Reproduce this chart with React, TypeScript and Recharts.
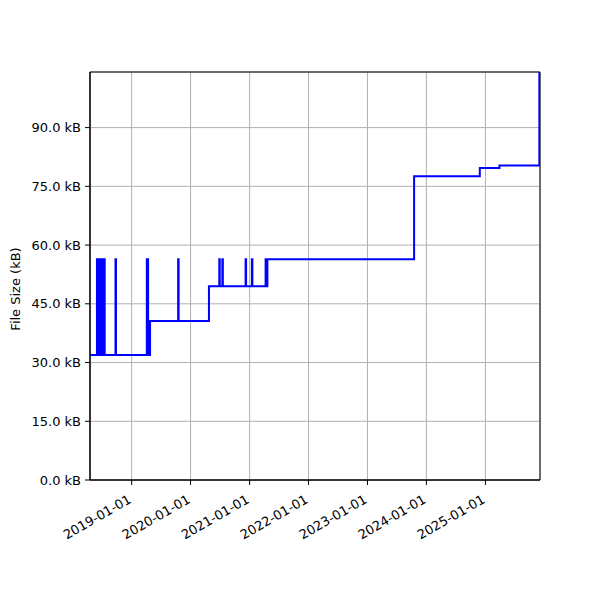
import React from 'react';
import { LineChart, Line, XAxis, YAxis, CartesianGrid, ReferenceArea } from 'recharts';

// commit dates and the file size at each commit (kB)
const dates = [
  '2018-04-18', '2018-05-31', '2018-06-02', '2018-06-04', '2018-06-06', '2018-06-08',
  '2018-06-11', '2018-06-15', '2018-06-18', '2018-06-20', '2018-06-23', '2018-06-26',
  '2018-06-30', '2018-07-05', '2018-07-08', '2018-07-11', '2018-07-14', '2018-07-16',
  '2018-07-18', '2018-09-23', '2018-09-26', '2019-04-05', '2019-04-13', '2019-04-25',
  '2019-10-16', '2019-10-19', '2020-04-24', '2020-06-27', '2020-06-30', '2020-07-16',
  '2020-07-19', '2020-12-07', '2020-12-10', '2021-01-15', '2021-01-18', '2021-04-10',
  '2021-04-14', '2021-04-21', '2023-10-17', '2024-11-27', '2025-03-29', '2025-12-01',
];
const sizes = [
  31.9, 56.4, 31.9, 56.4, 31.9, 56.4,
  31.9, 56.4, 31.9, 56.4, 31.9, 56.4,
  31.9, 56.4, 31.9, 56.4, 31.9, 56.4,
  31.9, 56.4, 31.9, 56.4, 31.9, 40.6,
  56.4, 40.6, 49.5, 56.4, 49.5, 56.4,
  49.5, 56.4, 49.5, 56.4, 49.5, 56.4,
  49.5, 56.4, 77.6, 79.7, 80.3, 104.2,
];
const yearTicks = [
  '2019-01-01', '2020-01-01', '2021-01-01', '2022-01-01',
  '2023-01-01', '2024-01-01', '2025-01-01',
];
const sizeTicks = [0, 15, 30, 45, 60, 75, 90];
const xStart = '2018-04-18';
const xEnd = '2025-12-05';
const yMax = 104.2;

const FONT = '"DejaVu Sans", sans-serif';
const FS = 13;

const rows = dates.map((d, i) => ({ t: Date.parse(d), kb: sizes[i] }));
const t0 = Date.parse(xStart);
const t1 = Date.parse(xEnd);

const DateTick = ({ x, y, payload }: any) => {
  const label = new Date(payload.value).toISOString().slice(0, 10);
  // y here is axis + tickSize + tickMargin; anchor the baseline end just below
  return (
    <text
      transform={`translate(${x + 0.5},${y + 14}) rotate(-30)`}
      textAnchor="end"
      fontSize={FS}
      fontFamily={FONT}
      fill="#000"
    >
      {label}
    </text>
  );
};

const YLabel = () => (
  <text
    transform="translate(20,289) rotate(-90)"
    textAnchor="middle"
    fontSize={FS}
    fontFamily={FONT}
    fill="#000"
  >
    File Size (kB)
  </text>
);

export default function App() {
  return (
    <div style={{ position: 'absolute', left: 0, top: 0, width: 600, height: 600, background: '#fff', fontFamily: FONT }}>
      <LineChart width={600} height={600} data={rows} margin={{ top: 72, right: 60, bottom: 0, left: 0 }}>
        <CartesianGrid stroke="#b0b0b0" strokeWidth={1} />
        <XAxis
          dataKey="t"
          type="number"
          domain={[t0, t1]}
          ticks={yearTicks.map((d) => Date.parse(d))}
          interval={0}
          allowDataOverflow
          height={120}
          tickSize={5}
          tickMargin={3}
          tickLine={{ stroke: '#000' }}
          axisLine={{ stroke: '#000' }}
          tick={<DateTick />}
        />
        <YAxis
          type="number"
          domain={[0, yMax]}
          ticks={sizeTicks}
          interval={0}
          allowDataOverflow
          width={90}
          tickSize={5}
          tickMargin={4}
          tickLine={{ stroke: '#000' }}
          axisLine={{ stroke: '#000' }}
          tick={{ fontSize: FS, fill: '#000', fontFamily: FONT }}
          tickFormatter={(v: number) => `${v.toFixed(1)} kB`}
          label={{ content: <YLabel /> }}
        />
        <ReferenceArea x1={t0} x2={t1} y1={0} y2={yMax} fill="none" stroke="#000" strokeWidth={1} fillOpacity={0} />
        <Line
          dataKey="kb"
          type="stepAfter"
          stroke="#0000ff"
          strokeWidth={2}
          dot={false}
          isAnimationActive={false}
        />
      </LineChart>
    </div>
  );
}
